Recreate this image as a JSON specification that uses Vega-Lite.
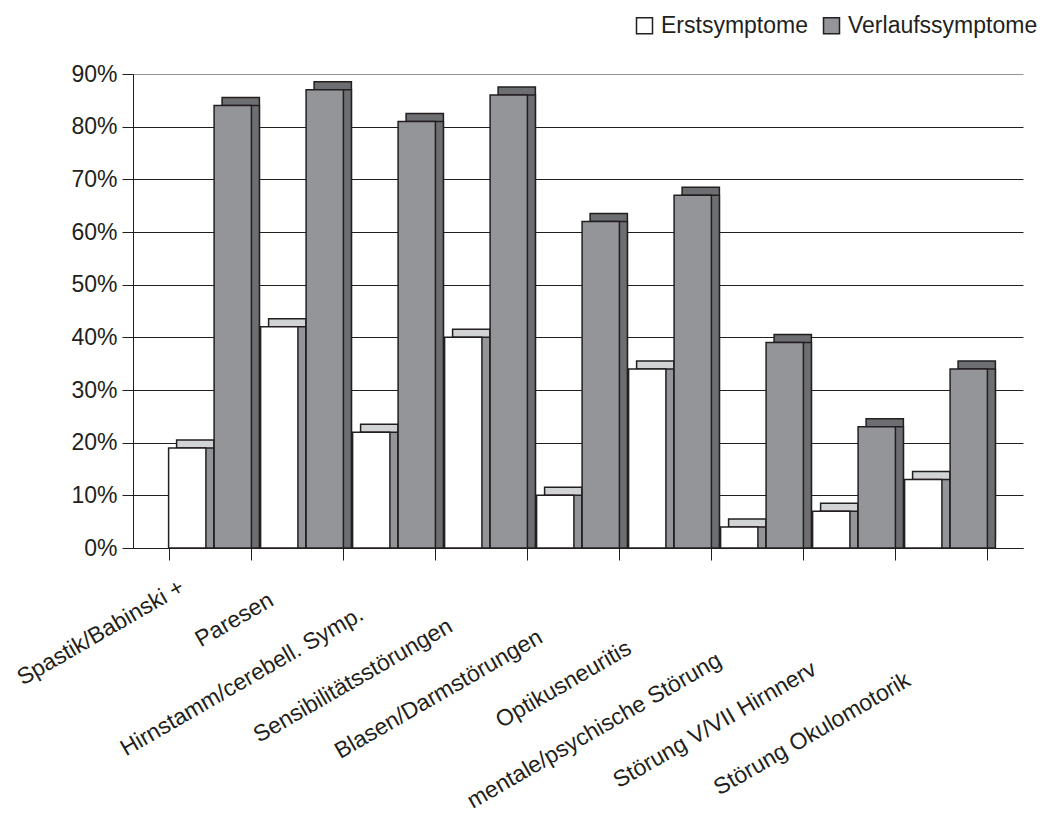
{
  "$schema": "https://vega.github.io/schema/vega-lite/v6.json",
  "description": "Erst- und Verlaufssymptome: Anteil der Patienten je Symptomgruppe, gruppierte Säulen mit angedeuteter Tiefe.",
  "autosize": {"type": "none"},
  "padding": {"left": 133, "top": 74, "right": 36, "bottom": 270},
  "width": 890,
  "height": 474,
  "background": "#ffffff",
  "config": {
    "font": "Liberation Sans",
    "view": {"stroke": null},
    "axis": {
      "labelFont": "Liberation Sans",
      "labelFontSize": 23,
      "labelColor": "#231f20",
      "domainColor": "#231f20",
      "tickColor": "#231f20",
      "gridColor": "#231f20",
      "title": null
    }
  },
  "data": {
    "values": [
      {"symptom": "Spastik/Babinski +", "series": "Erstsymptome", "percent": 19},
      {"symptom": "Spastik/Babinski +", "series": "Verlaufssymptome", "percent": 84},
      {"symptom": "Paresen", "series": "Erstsymptome", "percent": 42},
      {"symptom": "Paresen", "series": "Verlaufssymptome", "percent": 87},
      {"symptom": "Hirnstamm/cerebell. Symp.", "series": "Erstsymptome", "percent": 22},
      {"symptom": "Hirnstamm/cerebell. Symp.", "series": "Verlaufssymptome", "percent": 81},
      {"symptom": "Sensibilitätsstörungen", "series": "Erstsymptome", "percent": 40},
      {"symptom": "Sensibilitätsstörungen", "series": "Verlaufssymptome", "percent": 86},
      {"symptom": "Blasen/Darmstörungen", "series": "Erstsymptome", "percent": 10},
      {"symptom": "Blasen/Darmstörungen", "series": "Verlaufssymptome", "percent": 62},
      {"symptom": "Optikusneuritis", "series": "Erstsymptome", "percent": 34},
      {"symptom": "Optikusneuritis", "series": "Verlaufssymptome", "percent": 67},
      {"symptom": "mentale/psychische Störung", "series": "Erstsymptome", "percent": 4},
      {"symptom": "mentale/psychische Störung", "series": "Verlaufssymptome", "percent": 39},
      {"symptom": "Störung V/VII Hirnnerv", "series": "Erstsymptome", "percent": 7},
      {"symptom": "Störung V/VII Hirnnerv", "series": "Verlaufssymptome", "percent": 23},
      {"symptom": "Störung Okulomotorik", "series": "Erstsymptome", "percent": 13},
      {"symptom": "Störung Okulomotorik", "series": "Verlaufssymptome", "percent": 34}
    ]
  },
  "encoding": {
    "x": {
      "field": "symptom",
      "type": "nominal",
      "sort": null,
      "scale": {"paddingInner": 0.1, "paddingOuter": 0.387},
      "axis": {
        "labelAngle": -30,
        "labelAlign": "right",
        "labelBaseline": "middle",
        "labelPadding": {
          "condition": [
            {"test": "datum.value === 'Paresen'", "value": 38},
            {"test": "datum.value === 'Hirnstamm/cerebell. Symp.'", "value": 52},
            {"test": "datum.value === 'Sensibilitätsstörungen'", "value": 64},
            {"test": "datum.value === 'Blasen/Darmstörungen'", "value": 75},
            {"test": "datum.value === 'Optikusneuritis'", "value": 86},
            {"test": "datum.value === 'mentale/psychische Störung'", "value": 98},
            {"test": "datum.value === 'Störung V/VII Hirnnerv'", "value": 107},
            {"test": "datum.value === 'Störung Okulomotorik'", "value": 118}
          ],
          "value": 25
        },
        "labelOffset": {
          "condition": [
            {"test": "datum.value === 'Paresen'", "value": -31},
            {"test": "datum.value === 'Hirnstamm/cerebell. Symp.'", "value": -33},
            {"test": "datum.value === 'Sensibilitätsstörungen'", "value": -36},
            {"test": "datum.value === 'Blasen/Darmstörungen'", "value": -38},
            {"test": "datum.value === 'Optikusneuritis'", "value": -41},
            {"test": "datum.value === 'mentale/psychische Störung'", "value": -43},
            {"test": "datum.value === 'Störung V/VII Hirnnerv'", "value": -40},
            {"test": "datum.value === 'Störung Okulomotorik'", "value": -38}
          ],
          "value": -28
        },
        "labelLimit": 400,
        "tickBand": "extent",
        "tickSize": 12,
        "grid": false
      }
    },
    "y": {
      "field": "percent",
      "type": "quantitative",
      "scale": {"domain": [0, 90]},
      "axis": {
        "values": [0, 10, 20, 30, 40, 50, 60, 70, 80, 90],
        "labelExpr": "datum.value + '%'",
        "tickSize": 11,
        "labelPadding": 5,
        "grid": true,
        "gridWidth": 1,
        "gridColor": {
          "condition": {"test": "datum.value === 90", "value": "#939598"},
          "value": "#231f20"
        }
      }
    }
  },
  "resolve": {"scale": {"xOffset": "independent"}},
  "layer": [
    {
      "description": "Deckfläche der Säule, nach rechts hinten versetzt",
      "mark": {"type": "bar", "yOffset": -8, "stroke": "#231f20", "strokeWidth": 1.5},
      "encoding": {
        "xOffset": {
          "field": "series",
          "type": "nominal",
          "sort": ["Erstsymptome", "Verlaufssymptome"],
          "scale": {"paddingInner": 0.18, "range": [8, 90.8]}
        },
        "fill": {
          "condition": {"test": "datum.series === 'Erstsymptome'", "value": "#d1d3d4"},
          "value": "#6d6e71"
        }
      }
    },
    {
      "description": "Seitenfläche der Säule",
      "mark": {"type": "bar", "stroke": "#231f20", "strokeWidth": 1.5},
      "encoding": {
        "xOffset": {
          "field": "series",
          "type": "nominal",
          "sort": ["Erstsymptome", "Verlaufssymptome"],
          "scale": {"paddingInner": 0.18, "range": [8, 90.8]}
        },
        "fill": {
          "condition": {"test": "datum.series === 'Erstsymptome'", "value": "#939598"},
          "value": "#6d6e71"
        }
      }
    },
    {
      "description": "Vorderseite der Säule",
      "mark": {"type": "bar", "stroke": "#231f20", "strokeWidth": 1.5},
      "encoding": {
        "xOffset": {
          "field": "series",
          "type": "nominal",
          "sort": ["Erstsymptome", "Verlaufssymptome"],
          "scale": {"paddingInner": 0.18}
        },
        "fill": {
          "field": "series",
          "type": "nominal",
          "scale": {"domain": ["Erstsymptome", "Verlaufssymptome"], "range": ["#ffffff", "#939598"]},
          "legend": {
            "orient": "none",
            "legendX": 500,
            "legendY": -60,
            "direction": "horizontal",
            "title": null,
            "padding": 0,
            "symbolType": "square",
            "symbolSize": 256,
            "symbolStrokeColor": "#231f20",
            "symbolStrokeWidth": 1.5,
            "labelFont": "Liberation Sans",
            "labelFontSize": 23,
            "labelColor": "#231f20",
            "labelOffset": 5,
            "labelLimit": 300,
            "columnPadding": 12
          }
        }
      }
    }
  ]
}
